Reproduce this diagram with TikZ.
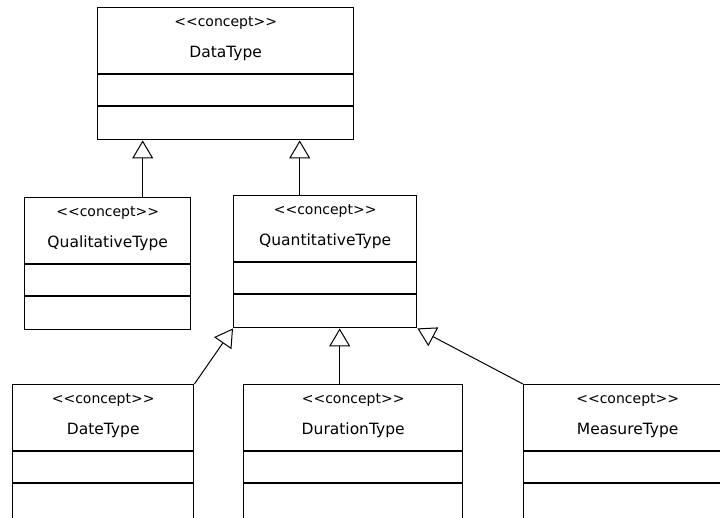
\documentclass[tikz,border=0pt]{standalone}
\usepackage{fontspec}
\newfontfamily\umlfont{DejaVu Sans}
\usetikzlibrary{arrows.meta}

\tikzset{
  classbox/.style={draw, line width=1.4pt, anchor=north west, inner sep=0pt},
  stereo/.style={anchor=base, inner sep=0pt, font=\umlfont\fontsize{14}{14}\selectfont},
  classname/.style={anchor=base, inner sep=0pt, font=\umlfont\fontsize{15.5}{16}\selectfont},
  gen/.style={line width=1pt, -{Triangle[length=18pt,width=21pt,fill=white,line width=1pt]}},
}

\begin{document}
\begin{tikzpicture}[x=1pt,y=-1pt]
            \clip (0,0) rectangle (720,517);
            \foreach \n/\x/\y/\w/\h/\t in {data/97/7/256/132/DataType,
                qual/24/197/166/132/QualitativeType, quant/233/195/183/132/QuantitativeType,
                date/12/384/181/150/DateType, dur/243/384/219/150/DurationType, meas/523/384/208/150/MeasureType}{
              \node[classbox, minimum width=\w pt, minimum height=\h pt] (\n) at (\x,\y) {};
              \node[stereo] (\n-st) at ([yshift=-19pt]\n.north) {<<concept>>};
              \node[classname] (\n-nm) at ([yshift=-50pt]\n.north) {\t};
              \draw[line width=1.4pt] ([yshift=-67pt]\n.north west) -- ([yshift=-67pt]\n.north east);
              \draw[line width=1.4pt] ([yshift=-99pt]\n.north west) -- ([yshift=-99pt]\n.north east);
            }
            \draw[gen] ([xshift=35pt]qual.north) -- ([xshift=35pt]qual.north |- data.south);
            \draw[gen] ([xshift=-25.5pt]quant.north) -- ([xshift=-25.5pt]quant.north |- data.south);
            \draw[gen] (date.north east) -- (quant.south west);
            \draw[gen] ([xshift=-13.5pt]dur.north) -- ([xshift=-13.5pt]dur.north |- quant.south);
            \draw[gen] (meas.north west) -- (quant.south east);
          \end{tikzpicture}
\end{document}
